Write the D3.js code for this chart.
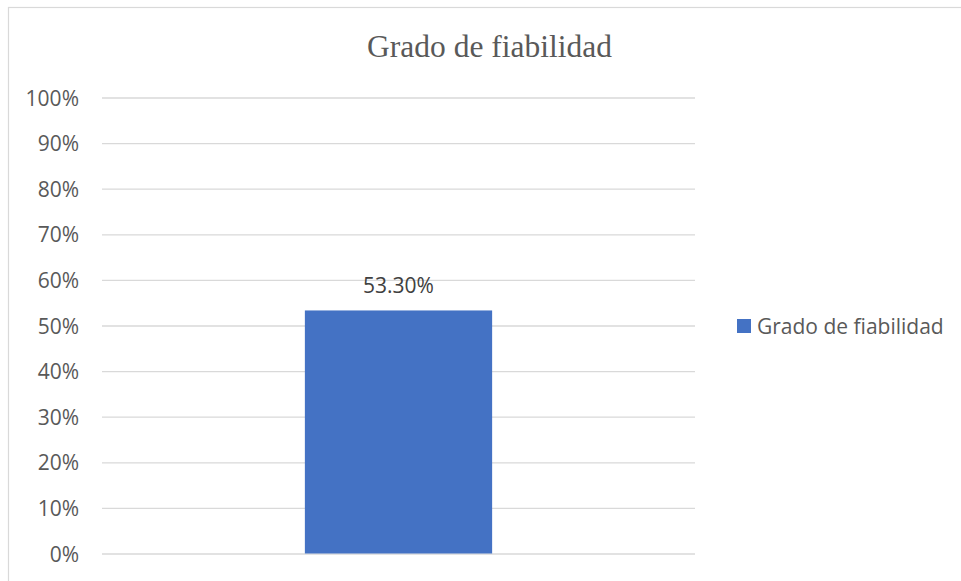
<!DOCTYPE html>
<html>
<head>
<meta charset="utf-8">
<script src="https://cdn.jsdelivr.net/npm/d3@7"></script>
<style>
  body { margin: 0; background: #fff; }
  svg { display: block; }
</style>
</head>
<body>
<svg></svg>
<script>
const width = 961;
const height = 581;

const categories = ['Grado de fiabilidad'];
const values = [0.533];
const valueLabels = ['53.30%'];
const seriesName = 'Grado de fiabilidad';
const yTicks = [0, 0.1, 0.2, 0.3, 0.4, 0.5, 0.6, 0.7, 0.8, 0.9, 1];

const plot = { left: 102, right: 695, top: 97.5, bottom: 553.5 };
const barColor = '#4472c4';
const gridColor = '#d9d9d9';
const textColor = '#595959';
const sans = '"Open Sans", "Liberation Sans", sans-serif';

const svg = d3.select('svg')
  .attr('width', width)
  .attr('height', height);

// chart frame
svg.append('rect')
  .attr('x', 8.5)
  .attr('y', 7.5)
  .attr('width', 970)
  .attr('height', 620)
  .attr('fill', 'none')
  .attr('stroke', gridColor)
  .attr('stroke-width', 1.2);

const xScale = d3.scaleBand()
  .domain(categories)
  .range([plot.left, plot.right])
  .padding(0.52);

const yScale = d3.scaleLinear()
  .domain([0, 1])
  .range([plot.bottom, plot.top]);

// ====================================
// Y axis + gridlines
// ====================================
const yAxis = d3.axisLeft(yScale)
  .tickValues(yTicks)
  .tickFormat(d3.format('.0%'))
  .tickSize(-(plot.right - plot.left))
  .tickPadding(23);

const gy = svg.append('g')
  .attr('transform', `translate(${plot.left}, 0)`)
  .call(yAxis);

gy.select('.domain').remove();
gy.selectAll('.tick line')
  .attr('stroke', gridColor)
  .attr('stroke-width', 1.3);
gy.selectAll('.tick text')
  .attr('fill', textColor)
  .attr('font-family', sans)
  .attr('font-size', 21)
  .attr('dy', '0.36em');

// ====================================
// Bars
// ====================================
svg.selectAll('rect.bar')
  .data(values)
  .enter()
  .append('rect')
  .attr('class', 'bar')
  .attr('x', (d, i) => xScale(categories[i]))
  .attr('y', d => yScale(d))
  .attr('width', xScale.bandwidth())
  .attr('height', d => yScale(0) - yScale(d))
  .attr('fill', barColor);

svg.selectAll('text.label')
  .data(values)
  .enter()
  .append('text')
  .attr('class', 'label')
  .attr('x', (d, i) => xScale(categories[i]) + xScale.bandwidth() / 2)
  .attr('y', d => yScale(d) - 17)
  .attr('text-anchor', 'middle')
  .attr('fill', '#404040')
  .attr('font-family', sans)
  .attr('font-size', 21)
  .text((d, i) => valueLabels[i]);

// ====================================
// Title
// ====================================
svg.append('text')
  .text('Grado de fiabilidad')
  .attr('x', 489.5)
  .attr('y', 57)
  .attr('text-anchor', 'middle')
  .attr('fill', textColor)
  .attr('font-family', '"Liberation Serif", "Times New Roman", serif')
  .attr('font-size', 31.5);

// ====================================
// Legend
// ====================================
const legend = svg.append('g')
  .attr('transform', 'translate(737, 319)');

legend.append('rect')
  .attr('width', 14)
  .attr('height', 14)
  .attr('fill', barColor);

legend.append('text')
  .attr('x', 20)
  .attr('y', 14.5)
  .attr('fill', textColor)
  .attr('font-family', sans)
  .attr('font-size', 21)
  .text(seriesName);
</script>
</body>
</html>
